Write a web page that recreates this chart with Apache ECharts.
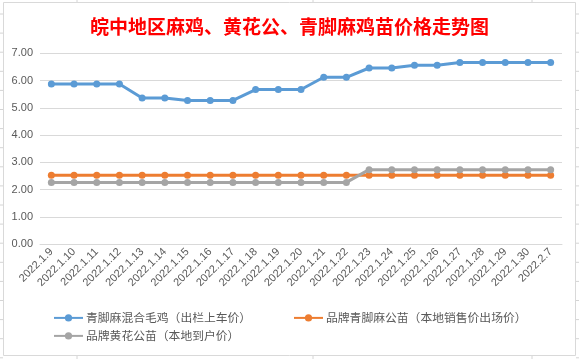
<!DOCTYPE html>
<html>
<head>
<meta charset="utf-8">
<script src="https://cdn.jsdelivr.net/npm/echarts@6/dist/echarts.min.js"></script>
<style>
html,body{margin:0;padding:0;background:#fff;}
#c{width:579px;height:359px;}
</style>
</head>
<body>
<div id="c"></div>
<script>
const categories = ['2022.1.9','2022.1.10','2022.1.11','2022.1.12','2022.1.13','2022.1.14','2022.1.15','2022.1.16','2022.1.17','2022.1.18','2022.1.19','2022.1.20','2022.1.21','2022.1.22','2022.1.23','2022.1.24','2022.1.25','2022.1.26','2022.1.27','2022.1.28','2022.1.29','2022.1.30','2022.2.7'];
const seriesNames = ['青脚麻混合毛鸡（出栏上车价）','品牌青脚麻公苗（本地销售价出场价）','品牌黄花公苗（本地到户价）'];
const mixedChicken = [5.87,5.87,5.87,5.87,5.36,5.36,5.27,5.27,5.27,5.67,5.67,5.67,6.12,6.12,6.46,6.46,6.56,6.56,6.66,6.66,6.66,6.66,6.66];
const brandQingjiao = [2.52,2.52,2.52,2.52,2.52,2.52,2.52,2.52,2.52,2.52,2.52,2.52,2.52,2.52,2.52,2.52,2.52,2.52,2.52,2.52,2.52,2.52,2.52];
const brandHuanghua = [2.26,2.26,2.26,2.26,2.26,2.26,2.26,2.26,2.26,2.26,2.26,2.26,2.26,2.26,2.73,2.73,2.73,2.73,2.73,2.73,2.73,2.73,2.73];
const yTicks = [0,1,2,3,4,5,6,7];
const colors = ['#5B9BD5','#ED7D31','#A5A5A5'];

const chart = echarts.init(document.getElementById('c'), null, {renderer:'canvas'});

// spreadsheet cell lines visible around the chart frame
const sheetLines = [];
for (let y = 14; y < 359; y += 19.1) {
  sheetLines.push({type:'line', shape:{x1:0,y1:y,x2:3,y2:y}, style:{stroke:'#d4d4d4',lineWidth:1}, silent:true});
  sheetLines.push({type:'line', shape:{x1:576,y1:y,x2:579,y2:y}, style:{stroke:'#d4d4d4',lineWidth:1}, silent:true});
}
[77,313,532].forEach(x => {
  sheetLines.push({type:'line', shape:{x1:x,y1:0,x2:x,y2:2}, style:{stroke:'#d4d4d4',lineWidth:1}, silent:true});
  sheetLines.push({type:'line', shape:{x1:x,y1:356,x2:x,y2:359}, style:{stroke:'#d4d4d4',lineWidth:1}, silent:true});
});

const baseFont = '"Noto Sans CJK SC", "Liberation Sans", sans-serif';
const legendText = {color:'#595959', fontSize:11.8, fontFamily:baseFont, padding:[0,0,0,-2]};

chart.setOption({
  backgroundColor:'#fff',
  animation:false,
  textStyle:{fontFamily: baseFont},
  title:{
    text:'皖中地区麻鸡、黄花公、青脚麻鸡苗价格走势图',
    left:'center', top:12,
    textStyle:{color:'#FF0000', fontSize:19, fontWeight:'bold', fontFamily:baseFont}
  },
  graphic:[
    {type:'rect', shape:{x:3.5,y:2.5,width:572,height:353}, style:{fill:null, stroke:'#d9d9d9', lineWidth:1}, silent:true, z:-1},
    ...sheetLines
  ],
  grid:{left:40, right:17, top:53.3, bottom:115, containLabel:false},
  xAxis:{
    type:'category',
    data:categories,
    boundaryGap:true,
    axisLine:{lineStyle:{color:'#d9d9d9'}},
    axisTick:{show:false},
    axisLabel:{rotate:45, color:'#595959', fontSize:11, margin:6, interval:0, fontFamily:'"Liberation Sans", sans-serif'}
  },
  yAxis:{
    type:'value',
    min:yTicks[0], max:yTicks[yTicks.length-1], interval:1,
    axisLine:{show:false},
    axisTick:{show:false},
    splitLine:{lineStyle:{color:'#d9d9d9'}},
    axisLabel:{color:'#595959', fontSize:11, margin:7, formatter:v => v.toFixed(2), fontFamily:'"Liberation Sans", sans-serif'}
  },
  legend:[
    {data:[seriesNames[0]], left:53, top:312, padding:0, itemWidth:29, itemHeight:9, itemGap:0, textStyle:legendText},
    {data:[seriesNames[1]], left:293, top:312, padding:0, itemWidth:29, itemHeight:9, itemGap:0, textStyle:legendText},
    {data:[seriesNames[2]], left:53, top:330, padding:0, itemWidth:29, itemHeight:9, itemGap:0, textStyle:legendText}
  ],
  series:[
    {name:seriesNames[0], type:'line', data:mixedChicken, color:colors[0], symbol:'circle', symbolSize:7,
     lineStyle:{width:3, color:colors[0]}, itemStyle:{color:colors[0]}},
    {name:seriesNames[1], type:'line', data:brandQingjiao, color:colors[1], symbol:'circle', symbolSize:7,
     lineStyle:{width:3, color:colors[1]}, itemStyle:{color:colors[1]}},
    {name:seriesNames[2], type:'line', data:brandHuanghua, color:colors[2], symbol:'circle', symbolSize:7,
     lineStyle:{width:3, color:colors[2]}, itemStyle:{color:colors[2]}}
  ]
});
</script>
</body>
</html>
